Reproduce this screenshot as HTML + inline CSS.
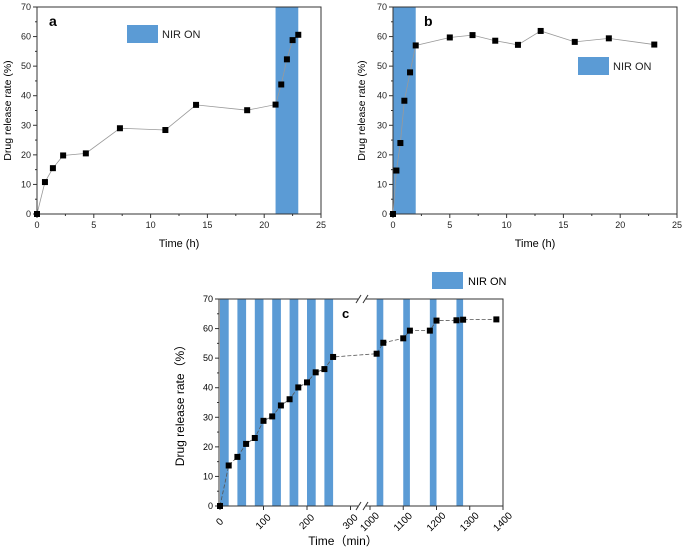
<!DOCTYPE html>
<html><head><meta charset="utf-8"><style>
body{margin:0;background:#fff}svg{display:block;font-family:"Liberation Sans","Noto Sans CJK SC",sans-serif}
</style></head><body>
<svg id="s" width="685" height="548"></svg>
<script>
const aX=[0,0.7,1.4,2.3,4.3,7.3,11.3,14,18.5,21,21.5,22,22.5,23];
const aY=[0,10.8,15.5,19.8,20.5,29,28.4,36.9,35.1,37,43.8,52.3,58.8,60.6];
const aBand=[21,23];
const bX=[0,0.3,0.65,1,1.5,2,5,7,9,11,13,16,19,23];
const bY=[0,14.7,24,38.3,47.9,57,59.7,60.5,58.6,57.2,61.9,58.2,59.4,57.3];
const bBand=[0,2];
const hTicks=[0,5,10,15,20,25];
const yTicks=[0,10,20,30,40,50,60,70];
const cX=[0,20,40,60,80,100,120,140,160,180,200,220,240,260,1020,1040,1100,1120,1180,1200,1260,1280,1380];
const cY=[0,13.7,16.6,21,23,28.8,30.3,34,36.1,40.1,41.8,45.2,46.3,50.4,51.5,55.2,56.7,59.3,59.3,62.7,62.8,63,63.1];
const cBands=[[0,20],[40,60],[80,100],[120,140],[160,180],[200,220],[240,260],[1020,1040],[1100,1120],[1180,1200],[1260,1280]];
const cTicks=[0,100,200,300,1000,1100,1200,1300,1400];
const S=document.getElementById('s');const NS='http://www.w3.org/2000/svg';
function el(t,a,txt){const e=document.createElementNS(NS,t);for(const k in a)e.setAttribute(k,a[k]);if(txt!==undefined)e.textContent=txt;S.appendChild(e);return e;}
const BLUE='#5b9bd5';
function panel(L,R,T,B,xmax,X,Y,band,letter,lx,ly,legX,legY,ytx){
  const sx=v=>L+v/xmax*(R-L), sy=v=>B-v/70*(B-T);
  let e=el('rect',{x:sx(band[0]),y:T,width:sx(band[1])-sx(band[0]),height:B-T,fill:BLUE});
  
  e=el('rect',{x:L,y:T,width:R-L,height:B-T,fill:'none',stroke:'#333','stroke-width':1});
  
  hTicks.forEach((t,i)=>{el('line',{x1:sx(t),x2:sx(t),y1:B,y2:B+4,stroke:'#333'});
    if(i<hTicks.length-1){const m=(t+hTicks[i+1])/2;el('line',{x1:sx(m),x2:sx(m),y1:B,y2:B+2,stroke:'#333'});}
    e=el('text',{x:sx(t),y:B+14,'font-size':9,'text-anchor':'middle',fill:'#222'},t);
    });
  yTicks.forEach((t,i)=>{el('line',{x1:L-4,x2:L,y1:sy(t),y2:sy(t),stroke:'#333'});
    if(i<yTicks.length-1){const m=t+5;el('line',{x1:L-2,x2:L,y1:sy(m),y2:sy(m),stroke:'#333'});}
    e=el('text',{x:L-6,y:sy(t)+3,'font-size':9,'text-anchor':'end',fill:'#222'},t);
    });
  let d=X.map((x,i)=>(i?'L':'M')+sx(x)+','+sy(Y[i])).join('');
  e=el('path',{d:d,fill:'none',stroke:'#999','stroke-width':0.8});
  
  X.forEach((x,i)=>{e=el('rect',{x:sx(x)-3,y:sy(Y[i])-3,width:6,height:6,fill:'#000'});
    });
  e=el('text',{x:lx,y:ly,'font-size':14,'font-weight':'bold'},letter);
  
  e=el('rect',{x:legX,y:legY,width:31,height:18,fill:BLUE});
  
  e=el('text',{x:legX+35,y:legY+13,'font-size':11,fill:'#222'},'NIR ON');
  
  e=el('text',{x:(L+R)/2,y:B+33,'font-size':11,'text-anchor':'middle'},'Time (h)');
  
  e=el('text',{x:0,y:0,'font-size':10.5,'text-anchor':'middle',transform:`translate(${ytx},${(T+B)/2}) rotate(-90)`},'Drug release rate (%)');
  
}
panel(37,321,7,214,25,aX,aY,aBand,'a',49,26,127,25,11);
panel(393,677,7,214,25,bX,bY,bBand,'b',424,26,578,57,365);
const L=219,R=503,T=299,B=506,BR=362;
const sx=v=>v<=300?220+v*0.435:370+(v-1000)*0.3325;
const sy=v=>B-v/70*(B-T);
let e;
cBands.forEach(b=>{e=el('rect',{x:sx(b[0]),y:T,width:sx(b[1])-sx(b[0]),height:B-T,fill:BLUE});
  });
e=el('rect',{x:L,y:T,width:R-L,height:B-T,fill:'none',stroke:'#333'});

el('rect',{x:BR-4,y:T-5,width:8,height:10,fill:'#fff'});el('rect',{x:BR-4,y:B-5,width:8,height:10,fill:'#fff'});
[[T],[B]].forEach(([y])=>{el('line',{x1:BR-6,y1:y+4,x2:BR-1,y2:y-4,stroke:'#333'});el('line',{x1:BR+1,y1:y+4,x2:BR+6,y2:y-4,stroke:'#333'});});
cTicks.forEach(t=>{el('line',{x1:sx(t),x2:sx(t),y1:B,y2:B+4,stroke:'#333'});
  e=el('text',{x:0,y:0,'font-size':10,'text-anchor':'middle',transform:`translate(${sx(t)+2},${B+18}) rotate(-45)`},t);
  });
yTicks.forEach((t,i)=>{el('line',{x1:L-4,x2:L,y1:sy(t),y2:sy(t),stroke:'#333'});
  if(i<yTicks.length-1){const m=t+5;el('line',{x1:L-2,x2:L,y1:sy(m),y2:sy(m),stroke:'#333'});}
  e=el('text',{x:L-6,y:sy(t)+3,'font-size':9,'text-anchor':'end'},t);
  });
e=el('path',{d:cX.map((x,i)=>(i?'L':'M')+sx(x)+','+sy(cY[i])).join(''),fill:'none',stroke:'#555','stroke-width':0.8,'stroke-dasharray':'4,2'});

cX.forEach((x,i)=>{e=el('rect',{x:sx(x)-3,y:sy(cY[i])-3,width:6,height:6,fill:'#000'});
  });
e=el('text',{x:342,y:318,'font-size':13,'font-weight':'bold'},'c');

e=el('rect',{x:432,y:272,width:31,height:17,fill:BLUE});

e=el('text',{x:468,y:285,'font-size':11},'NIR ON');

e=el('text',{x:343,y:545,'font-size':12,'text-anchor':'middle'},'Time（min）');

e=el('text',{x:0,y:0,'font-size':12,'text-anchor':'middle',transform:`translate(184,${(T+B)/2}) rotate(-90)`},'Drug release rate（%）');

</script>
</body></html>
